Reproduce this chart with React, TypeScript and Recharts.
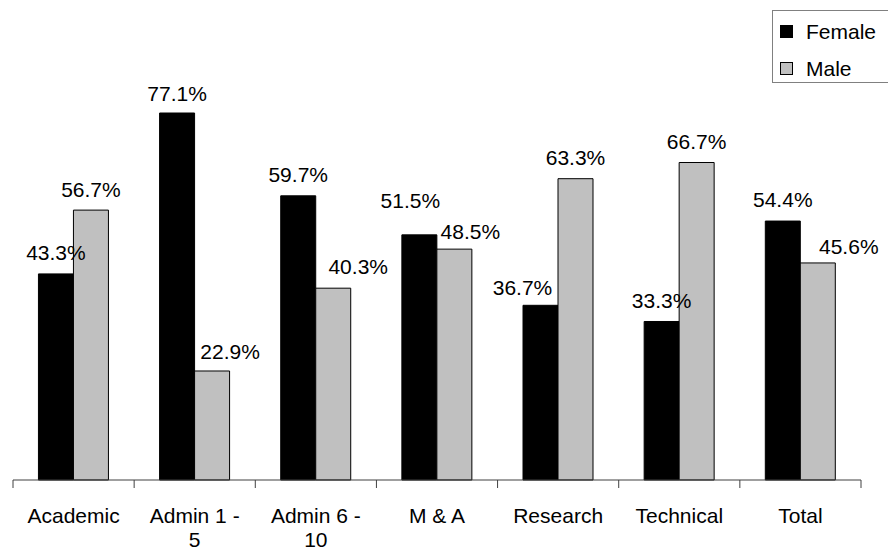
import React from 'react';
import { BarChart, Bar, XAxis, YAxis, Legend, LabelList } from 'recharts';

const categories = ['Academic', 'Admin 1 - 5', 'Admin 6 - 10', 'M & A', 'Research', 'Technical', 'Total'];
const female = [43.3, 77.1, 59.7, 51.5, 36.7, 33.3, 54.4];
const male = [56.7, 22.9, 40.3, 48.5, 63.3, 66.7, 45.6];

// small manual label nudges (dx, dy) as placed in the original chart
const femaleLabelNudge = [[0, 0], [0, 2], [0, 0], [-9, -13], [-18, 4], [0, 1], [0, 0]];
const maleLabelNudge = [[0, 1], [18, 2], [25, 0], [16, 4], [0, 0], [0, 0], [31, 5]];

const data = categories.map((c, i) => ({ cat: c, Female: female[i], Male: male[i] }));

const FONT = '"Liberation Sans", Arial, Helvetica, sans-serif';
const AXIS = '#404040';
const MAX_CHARS = 9;

const wrapWords = (s: string) => {
  const words = String(s).split(' ');
  const lines: string[] = [];
  let cur = '';
  words.forEach((w) => {
    const next = cur ? cur + ' ' + w : w;
    if (next.length > MAX_CHARS && cur) {
      lines.push(cur);
      cur = w;
    } else {
      cur = next;
    }
  });
  if (cur) lines.push(cur);
  return lines;
};

const CategoryTick = (props: any) => {
  const { x, y, payload, index, visibleTicksCount, width } = props;
  const count = visibleTicksCount || categories.length;
  const half = payload && typeof payload.offset === 'number' && payload.offset > 0 ? payload.offset : width / count / 2;
  const axisY = y - 8;
  const lines = wrapWords(payload.value);
  return (
    <g>
      <line x1={x - half} x2={x - half} y1={axisY} y2={axisY + 8} stroke={AXIS} strokeWidth={1} />
      {index === count - 1 && (
        <line x1={x + half} x2={x + half} y1={axisY} y2={axisY + 8} stroke={AXIS} strokeWidth={1} />
      )}
      <text x={x} y={y + 35} textAnchor="middle" fontSize={21} fontFamily={FONT} fill="#000">
        {lines.map((l, i) => (
          <tspan key={i} x={x} dy={i === 0 ? 0 : 24}>
            {l}
          </tspan>
        ))}
      </text>
    </g>
  );
};

const makeLabel = (nudge: number[][]) => (p: any) => {
  const { x, y, width, value, index } = p;
  const n = nudge[index] || [0, 0];
  return (
    <text
      x={x + width / 2 + n[0]}
      y={y - 14 + n[1]}
      textAnchor="middle"
      fontSize={21}
      fontFamily={FONT}
      fill="#000"
    >
      {Number(value).toFixed(1)}%
    </text>
  );
};

const renderLegend = (props: any) => {
  const { payload } = props;
  return (
    <div
      style={{
        width: 120,
        height: 73,
        boxSizing: 'border-box',
        border: '1px solid #808080',
        background: '#fff',
        paddingTop: 2,
        paddingLeft: 7,
        fontFamily: FONT,
        fontSize: 21,
        color: '#000',
      }}
    >
      {(payload || []).map((entry: any) => (
        <div key={entry.value} style={{ display: 'flex', alignItems: 'center', height: 37 }}>
          <span
            style={{
              display: 'inline-block',
              width: 13,
              height: 13,
              boxSizing: 'border-box',
              background: entry.color,
              border: '1px solid #000',
              marginRight: 13,
            }}
          />
          <span style={{ lineHeight: '21px' }}>{entry.value}</span>
        </div>
      ))}
    </div>
  );
};

export default function App() {
  return (
    <div style={{ position: 'absolute', left: 0, top: 0, width: 888, height: 551, overflow: 'hidden', background: '#fff' }}>
      <BarChart
        width={888}
        height={551}
        data={data}
        margin={{ top: 4, right: 27, bottom: 11, left: 13 }}
        barCategoryGap="21%"
        barGap={0}
      >
        <XAxis
          dataKey="cat"
          axisLine={{ stroke: AXIS }}
          tickLine={false}
          tickSize={8}
          tickMargin={0}
          interval={0}
          height={60}
          tick={<CategoryTick />}
        />
        <YAxis hide domain={[0, 100]} />
        <Legend
          layout="vertical"
          align="center"
          verticalAlign="middle"
          content={renderLegend}
          wrapperStyle={{ left: 772, top: 10, width: 120 }}
        />
        <Bar dataKey="Female" name="Female" fill="#000000" stroke="#000000" strokeWidth={1} isAnimationActive={false}>
          <LabelList dataKey="Female" content={makeLabel(femaleLabelNudge)} />
        </Bar>
        <Bar dataKey="Male" name="Male" fill="#C0C0C0" stroke="#000000" strokeWidth={1} isAnimationActive={false}>
          <LabelList dataKey="Male" content={makeLabel(maleLabelNudge)} />
        </Bar>
      </BarChart>
    </div>
  );
}
